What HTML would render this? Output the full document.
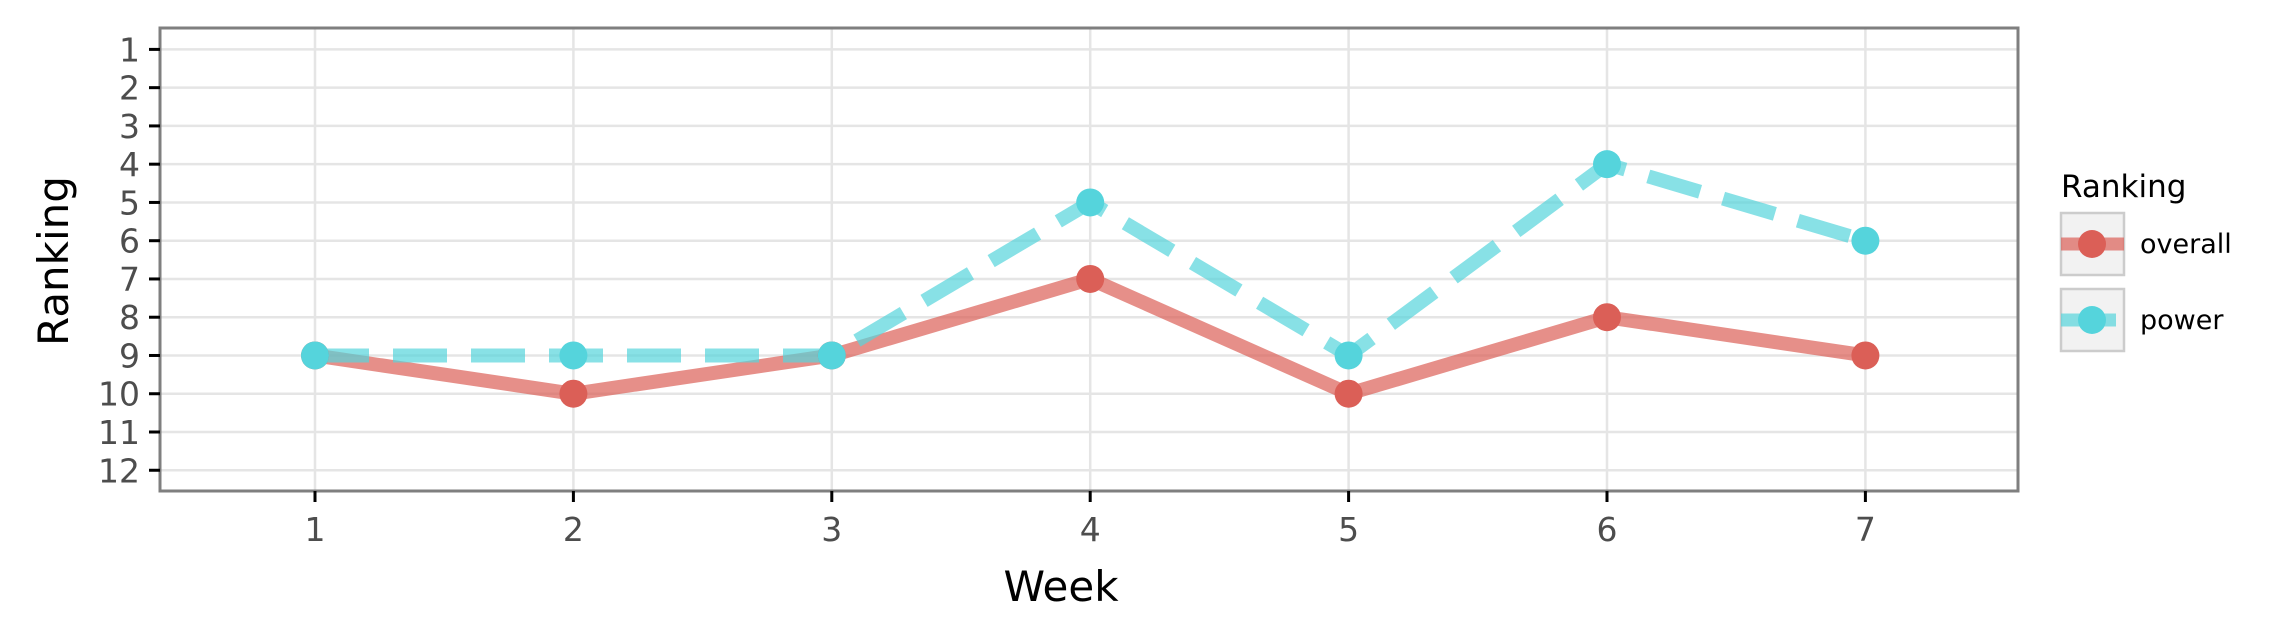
<!DOCTYPE html>
<html><head><meta charset="utf-8"><style>
html,body{margin:0;padding:0;background:#fff;}
svg{display:block;font-family:"DejaVu Sans","Liberation Sans",sans-serif;}
</style></head><body>
<svg id="chart" width="2276" height="641">
<g id="grid"></g>
<g id="series"></g>
<rect x="160" y="28" width="1858" height="463" fill="none" stroke="#7f7f7f" stroke-width="3"/>
<g id="axes"></g>
<text x="1061" y="601" font-size="42" text-anchor="middle" fill="#000">Week</text>
<text transform="translate(68,261) rotate(-90)" font-size="42" text-anchor="middle" fill="#000">Ranking</text>
<g>
<text x="2061" y="197" font-size="31" fill="#000">Ranking</text>
<g>
<rect x="2061" y="213" width="63" height="62" fill="#f2f2f2" stroke="#cccccc" stroke-width="2.5"/>
<line x1="2061" y1="244" x2="2124" y2="244" stroke="#db5f57" stroke-opacity="0.7" stroke-width="13"/>
<circle cx="2092" cy="244" r="14" fill="#db5f57"/>
<text x="2140" y="253" font-size="27" fill="#000">overall</text>
</g>
<g>
<rect x="2061" y="289" width="63" height="62" fill="#f2f2f2" stroke="#cccccc" stroke-width="2.5"/>
<line x1="2061" y1="320" x2="2116" y2="320" stroke="#55d4dc" stroke-opacity="0.7" stroke-width="13"/>
<circle cx="2092" cy="320" r="14" fill="#55d4dc"/>
<text x="2140" y="329" font-size="27" fill="#000">power</text>
</g>
</g>
</svg>
<script>
const weeks = [1,2,3,4,5,6,7];
const overall = [9,10,9,7,10,8,9];
const power = [9,9,9,5,9,4,6];
const yTicks = [1,2,3,4,5,6,7,8,9,10,11,12];

const NS = "http://www.w3.org/2000/svg";
function xs(w){ return 315 + (w-1)*258.4; }
function ys(r){ return 49.4 + (r-1)*38.26; }
function mk(tag, attrs, parent){
  const e = document.createElementNS(NS, tag);
  for (const k in attrs) e.setAttribute(k, attrs[k]);
  parent.appendChild(e); return e;
}
const grid = document.getElementById('grid');
const axes = document.getElementById('axes');
const series = document.getElementById('series');
yTicks.forEach(t=>{
  const y = ys(t);
  const g = mk('line',{x1:160,x2:2018,y1:y,y2:y,stroke:'#e5e5e5','stroke-width':2.5},grid);
  
  
  mk('line',{x1:149,x2:160,y1:y,y2:y,stroke:'#000','stroke-width':3},axes);
  const tx = mk('text',{x:140,y:y+12,'font-size':33,'text-anchor':'end',fill:'#4d4d4d'},axes);
  tx.textContent = t;
  
  
});
weeks.forEach(w=>{
  const x = xs(w);
  const g = mk('line',{x1:x,x2:x,y1:28,y2:491,stroke:'#e5e5e5','stroke-width':2.5},grid);
  
  
  mk('line',{x1:x,x2:x,y1:491,y2:502,stroke:'#000','stroke-width':3},axes);
  const tx = mk('text',{x:x,y:541,'font-size':33,'text-anchor':'middle',fill:'#4d4d4d'},axes);
  tx.textContent = w;
  
  
});
function drawSeries(vals, color, dash, name){
  const pts = vals.map((v,i)=>xs(weeks[i])+','+ys(v)).join(' ');
  const attrs = {points:pts,fill:'none',stroke:color,'stroke-opacity':0.7,'stroke-width':14};
  if (dash) attrs['stroke-dasharray'] = dash;
  const l = mk('polyline',attrs,series);
  
  
  return l;
}
function drawPoints(vals, color, name){
  vals.forEach((v,i)=>{
    const c = mk('circle',{cx:xs(weeks[i]),cy:ys(v),r:14,fill:color},series);
    
    
  });
}
drawSeries(overall,'#db5f57',null,'overall');
drawSeries(power,'#55d4dc','54 24','power');
drawPoints(overall,'#db5f57','overall');
drawPoints(power,'#55d4dc','power');
</script>
</body></html>
